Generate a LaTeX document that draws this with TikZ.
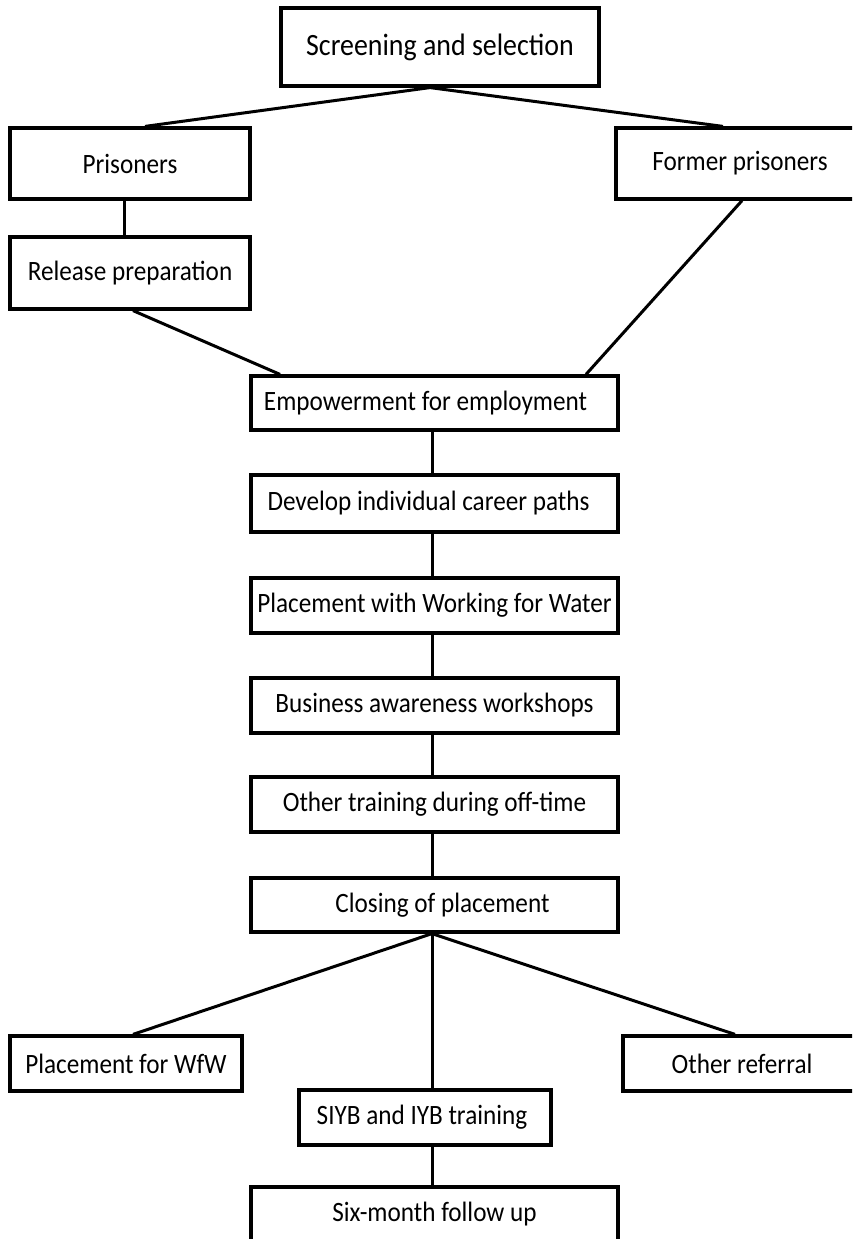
\documentclass[tikz,border=0pt]{standalone}
\usepackage{fontspec}
\setmainfont{Carlito}[FakeStretch=0.9]
\begin{document}
\begin{tikzpicture}[x=1pt,y=-1pt,
  box/.style={draw=black, line width=3.2pt, fill=white, inner sep=0pt, font=\fontsize{28}{32}\selectfont},
  conn/.style={draw=black, line width=3pt}]
\useasboundingbox (0,0) rectangle (852,1239);
\clip (0,0) rectangle (852,1239);
\fill[white] (0,0) rectangle (852,1239);
% nodes
\node[box, minimum width=318pt, minimum height=78pt, font=\fontsize{31}{35}\selectfont] (screen) at (440,47) {Screening and selection};
\node[box, minimum width=240pt, minimum height=71pt] (pris) at (130,163.5) {Prisoners};
\node[box, minimum width=248pt, minimum height=71pt] (former) at (740,163.5) {Former prisoners};
\node[box, minimum width=240pt, minimum height=72pt] (rel) at (130,273) {Release preparation};
\node[box, minimum width=367pt, minimum height=54pt] (emp) at (434.5,403) {\hspace*{-18pt}Empowerment for employment};
\node[box, minimum width=367pt, minimum height=57pt] (dev) at (434.5,503.5) {\hspace*{-12pt}Develop individual career paths};
\node[box, minimum width=367pt, minimum height=55pt] (plc) at (434.5,605.5) {Placement with Working for Water};
\node[box, minimum width=367pt, minimum height=55pt] (bus) at (434.5,705.5) {Business awareness workshops};
\node[box, minimum width=367pt, minimum height=55pt] (oth) at (434.5,804.5) {Other training during off-time};
\node[box, minimum width=367pt, minimum height=54pt] (clo) at (434.5,905) {\hspace*{16pt}Closing of placement};
\node[box, minimum width=232pt, minimum height=55pt] (wfw) at (126,1063.5) {Placement for WfW};
\node[box, minimum width=238pt, minimum height=55pt] (ref) at (742,1063.5) {Other referral};
\node[box, minimum width=252pt, minimum height=55pt] (siyb) at (425,1117.5) {\hspace*{-6pt}SIYB and IYB training};
\node[box, minimum width=367pt, minimum height=55pt] (six) at (434.5,1214.5) {Six-month follow up};
% connectors
\draw[conn] ([xshift=-10pt]screen.south) -- ([xshift=15pt]pris.north);
\draw[conn] ([xshift=-10pt]screen.south) -- ([xshift=-17pt]former.north);
\draw[conn] ([xshift=-6pt]pris.south) -- ([xshift=-6pt]rel.north);
\draw[conn] ([xshift=3pt]rel.south) -- ([xshift=-154.5pt]emp.north);
\draw[conn] ([xshift=2pt]former.south) -- ([xshift=151.5pt]emp.north);
\draw[conn] ([xshift=-2.5pt]emp.south) -- ([xshift=-2.5pt]dev.north);
\draw[conn] ([xshift=-2.5pt]dev.south) -- ([xshift=-2.5pt]plc.north);
\draw[conn] ([xshift=-2.5pt]plc.south) -- ([xshift=-2.5pt]bus.north);
\draw[conn] ([xshift=-2.5pt]bus.south) -- ([xshift=-2.5pt]oth.north);
\draw[conn] ([xshift=-2.5pt]oth.south) -- ([xshift=-2.5pt]clo.north);
\draw[conn] ([xshift=-2.5pt]clo.south) -- ([xshift=7pt]wfw.north);
\draw[conn] ([xshift=-2.5pt]clo.south) -- ([xshift=7pt]siyb.north);
\draw[conn] ([xshift=-2.5pt]clo.south) -- ([xshift=-7pt]ref.north);
\draw[conn] ([xshift=7pt]siyb.south) -- ([xshift=-2.5pt]six.north);
\end{tikzpicture}
\end{document}
